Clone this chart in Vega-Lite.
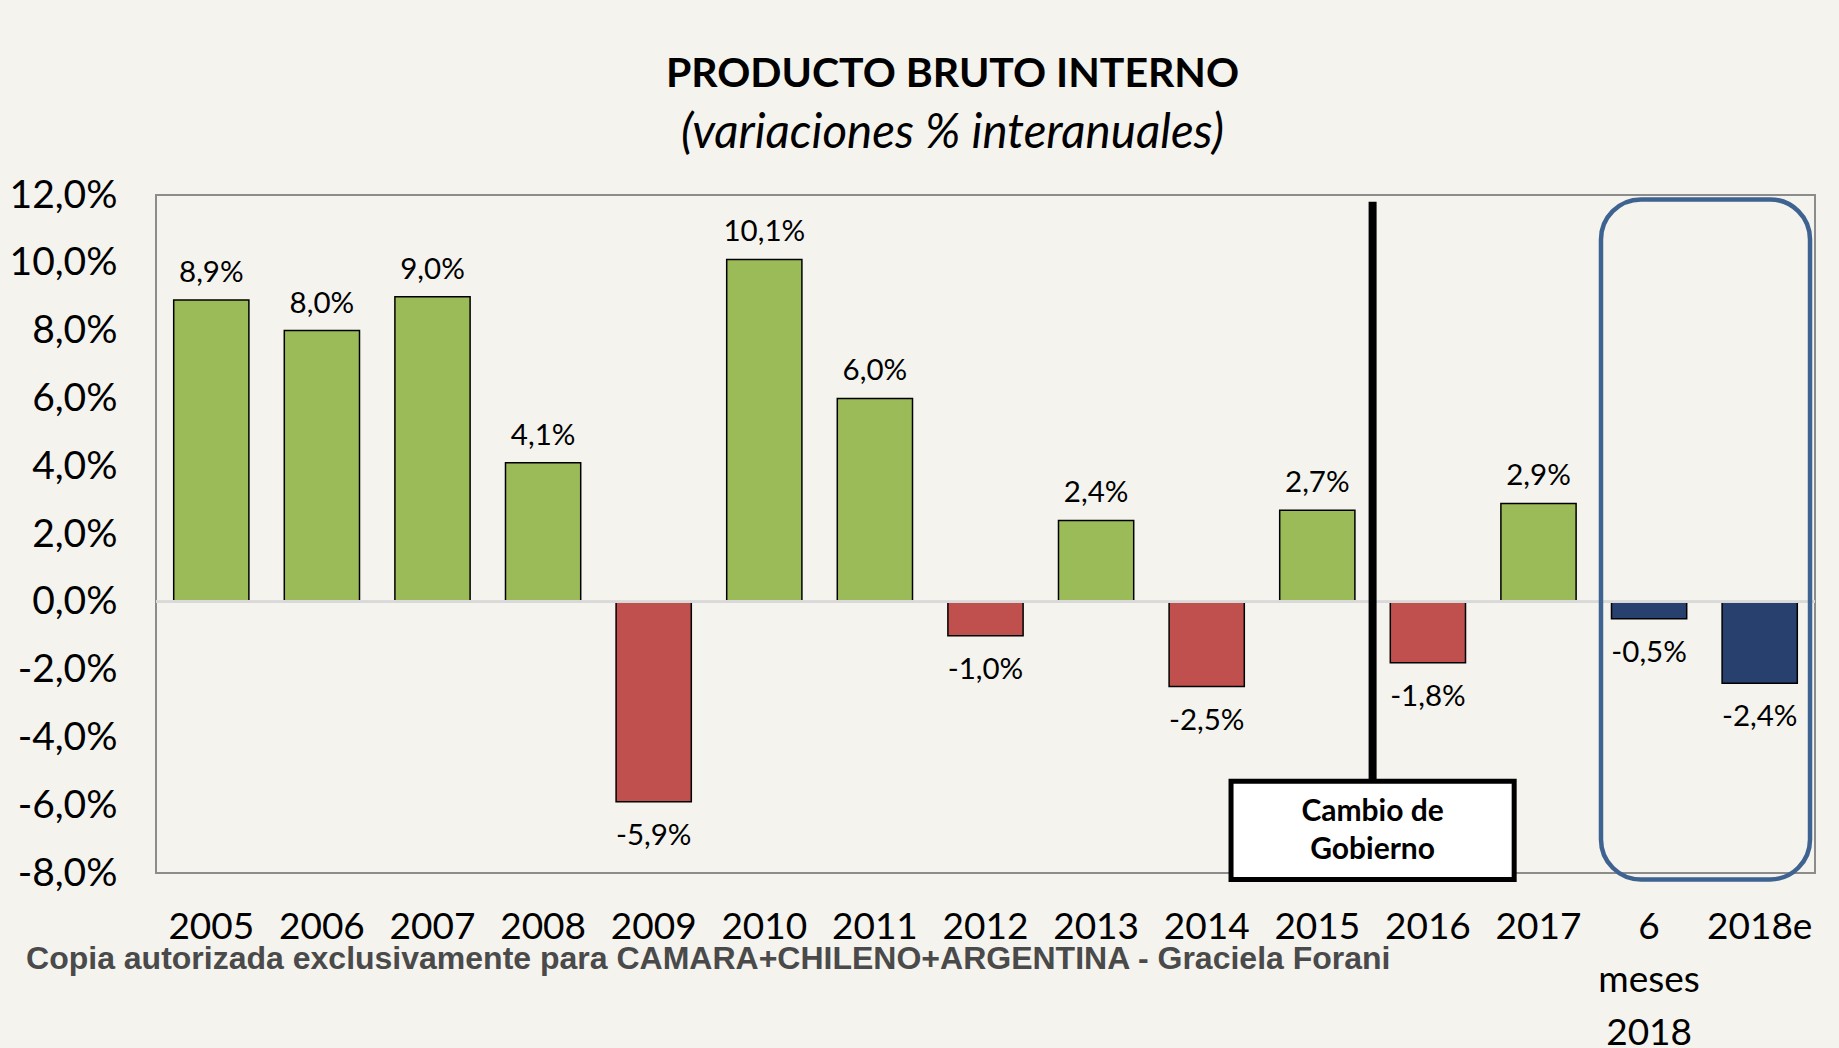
{
  "$schema": "https://vega.github.io/schema/vega-lite/v6.json",
  "width": 1659,
  "height": 678,
  "autosize": {"type": "none"},
  "padding": {"left": 156, "top": 195, "right": 24, "bottom": 175},
  "background": "#f4f3ee",
  "title": {
    "text": "PRODUCTO BRUTO INTERNO",
    "subtitle": "(variaciones % interanuales)",
    "anchor": "middle",
    "frame": "group",
    "dx": -33,
    "offset": 18,
    "font": "Lato",
    "fontSize": 41,
    "fontWeight": "bold",
    "color": "#000000",
    "subtitleFont": "Lato",
    "subtitleFontSize": 47.5,
    "subtitleFontStyle": "italic",
    "subtitleColor": "#000000",
    "subtitlePadding": 14
  },
  "config": {
    "locale": {"number": {"decimal": ",", "thousands": ".", "grouping": [3], "currency": ["$", ""], "minus": "-"}},
    "view": {"stroke": "#8c8c8c", "strokeWidth": 2},
    "axis": {"grid": false, "domain": false, "ticks": false, "tickSize": 0, "labelFont": "Lato", "labelColor": "#000000", "title": null},
    "text": {"font": "Lato"}
  },
  "data": {
    "values": [
      {"periodo": "2005", "valor": 0.089, "grupo": "crecimiento"},
      {"periodo": "2006", "valor": 0.080, "grupo": "crecimiento"},
      {"periodo": "2007", "valor": 0.090, "grupo": "crecimiento"},
      {"periodo": "2008", "valor": 0.041, "grupo": "crecimiento"},
      {"periodo": "2009", "valor": -0.059, "grupo": "caida"},
      {"periodo": "2010", "valor": 0.101, "grupo": "crecimiento"},
      {"periodo": "2011", "valor": 0.060, "grupo": "crecimiento"},
      {"periodo": "2012", "valor": -0.010, "grupo": "caida"},
      {"periodo": "2013", "valor": 0.024, "grupo": "crecimiento"},
      {"periodo": "2014", "valor": -0.025, "grupo": "caida"},
      {"periodo": "2015", "valor": 0.027, "grupo": "crecimiento"},
      {"periodo": "2016", "valor": -0.018, "grupo": "caida"},
      {"periodo": "2017", "valor": 0.029, "grupo": "crecimiento"},
      {"periodo": "6 meses 2018", "valor": -0.005, "grupo": "2018"},
      {"periodo": "2018e", "valor": -0.024, "grupo": "2018"}
    ]
  },
  "layer": [
    {
      "layer": [
        {
          "mark": {"type": "bar", "stroke": "#000000", "strokeWidth": 1.5},
          "encoding": {
            "x": {
              "field": "periodo", "type": "nominal", "sort": null,
              "scale": {"domain": ["2005","2006","2007","2008","2009","2010","2011","2012","2013","2014","2015","2016","2017","6 meses 2018","2018e"], "paddingInner": 0.32, "paddingOuter": 0.16},
              "axis": {"labelAngle": 0, "labelFontSize": 37, "labelPadding": 36, "labelBaseline": "top", "labelLineHeight": 53,
                       "labelExpr": "datum.value == '6 meses 2018' ? ['6', 'meses', '2018'] : datum.label"}
            },
            "y": {
              "field": "valor", "type": "quantitative",
              "scale": {"domain": [-0.08, 0.12], "nice": false, "zero": false},
              "axis": {"values": [-0.08, -0.06, -0.04, -0.02, 0, 0.02, 0.04, 0.06, 0.08, 0.1, 0.12], "format": ".1%", "labelFontSize": 39, "labelPadding": 39}
            },
            "color": {
              "field": "grupo", "type": "nominal",
              "scale": {"domain": ["crecimiento", "caida", "2018"], "range": ["#9bbb59", "#c0504d", "#27406d"]},
              "legend": null
            }
          }
        },
        {
          "mark": {"type": "rule", "color": "#d9d9d9", "strokeWidth": 2},
          "encoding": {
            "y": {"datum": 0, "type": "quantitative", "scale": {"domain": [-0.08, 0.12], "nice": false, "zero": false}}
          }
        },
        {
          "transform": [{"filter": "datum.valor >= 0"}],
          "mark": {"type": "text", "baseline": "alphabetic", "dy": -18, "fontSize": 29.5, "color": "#000000"},
          "encoding": {
            "x": {"field": "periodo", "type": "nominal", "sort": null,
                  "scale": {"domain": ["2005","2006","2007","2008","2009","2010","2011","2012","2013","2014","2015","2016","2017","6 meses 2018","2018e"], "paddingInner": 0.32, "paddingOuter": 0.16}},
            "y": {"field": "valor", "type": "quantitative", "scale": {"domain": [-0.08, 0.12], "nice": false, "zero": false}},
            "text": {"field": "valor", "type": "quantitative", "format": ".1%"}
          }
        },
        {
          "transform": [{"filter": "datum.valor < 0"}],
          "mark": {"type": "text", "baseline": "top", "dy": 20, "fontSize": 29.5, "color": "#000000"},
          "encoding": {
            "x": {"field": "periodo", "type": "nominal", "sort": null,
                  "scale": {"domain": ["2005","2006","2007","2008","2009","2010","2011","2012","2013","2014","2015","2016","2017","6 meses 2018","2018e"], "paddingInner": 0.32, "paddingOuter": 0.16}},
            "y": {"field": "valor", "type": "quantitative", "scale": {"domain": [-0.08, 0.12], "nice": false, "zero": false}},
            "text": {"field": "valor", "type": "quantitative", "format": ".1%"}
          }
        }
      ]
    },
    {
      "data": {"values": [{"nota": "Cambio de Gobierno", "copia": "Copia autorizada exclusivamente para CAMARA+CHILENO+ARGENTINA - Graciela Forani"}]},
      "layer": [
        {
          "mark": {"type": "rule", "color": "#000000", "strokeWidth": 8},
          "encoding": {
            "x": {"datum": 11, "type": "quantitative", "scale": {"domain": [0, 15], "nice": false, "zero": false}, "axis": null},
            "y": {"datum": 0.118, "type": "quantitative", "scale": {"domain": [-0.08, 0.12], "nice": false, "zero": false}},
            "y2": {"datum": -0.0529}
          }
        },
        {
          "mark": {"type": "rect", "fill": "#ffffff", "stroke": "#000000", "strokeWidth": 5},
          "encoding": {
            "x": {"datum": 9.72, "type": "quantitative", "scale": {"domain": [0, 15], "nice": false, "zero": false}, "axis": null},
            "x2": {"datum": 12.28},
            "y": {"datum": -0.0529, "type": "quantitative", "scale": {"domain": [-0.08, 0.12], "nice": false, "zero": false}},
            "y2": {"datum": -0.0819}
          }
        },
        {
          "mark": {"type": "text", "fontSize": 30, "fontWeight": "bold", "color": "#000000", "baseline": "middle", "align": "center", "lineHeight": 38},
          "encoding": {
            "x": {"datum": 11, "type": "quantitative", "scale": {"domain": [0, 15], "nice": false, "zero": false}, "axis": null},
            "y": {"datum": -0.062, "type": "quantitative", "scale": {"domain": [-0.08, 0.12], "nice": false, "zero": false}},
            "text": {"value": ["Cambio de", "Gobierno"]}
          }
        },
        {
          "mark": {"type": "rect", "fill": null, "fillOpacity": 0, "stroke": "#3e6391", "strokeWidth": 4.5, "cornerRadius": 40},
          "encoding": {
            "x": {"datum": 13.065, "type": "quantitative", "scale": {"domain": [0, 15], "nice": false, "zero": false}, "axis": null},
            "x2": {"datum": 14.955},
            "y": {"datum": 0.1187, "type": "quantitative", "scale": {"domain": [-0.08, 0.12], "nice": false, "zero": false}},
            "y2": {"datum": -0.0819}
          }
        },
        {
          "mark": {"type": "text", "font": "Liberation Sans", "fontSize": 32, "fontWeight": "bold", "color": "#4a4a4a", "align": "left", "baseline": "alphabetic"},
          "encoding": {
            "x": {"datum": -1.175, "type": "quantitative", "scale": {"domain": [0, 15], "nice": false, "zero": false}, "axis": null},
            "y": {"datum": -0.1083, "type": "quantitative", "scale": {"domain": [-0.08, 0.12], "nice": false, "zero": false}},
            "text": {"field": "copia"}
          }
        }
      ]
    }
  ],
  "resolve": {"scale": {"x": "independent"}}
}
